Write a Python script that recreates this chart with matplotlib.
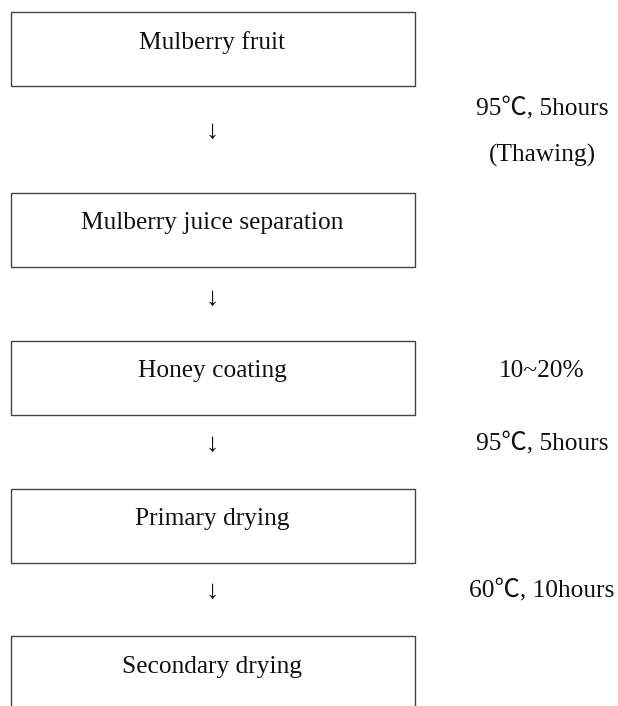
import matplotlib.pyplot as plt
from matplotlib.patches import Rectangle

# DATA
steps = ['Mulberry fruit', 'Mulberry juice separation', 'Honey coating',
         'Primary drying', 'Secondary drying']
notes = ['95\u2103, 5hours', '(Thawing)', '10~20%', '95\u2103, 5hours', '60\u2103, 10hours']

# layout (pixels)
W, H = 618, 706
box_top = [11, 192, 340, 488, 635]
box_x, box_w, box_h = 10.5, 404, 74
arrow_y = [132, 299, 445, 592]
note_base = [115, 162, 377, 450, 597]
fonts = ['Liberation Serif', 'Noto Sans CJK JP', 'DejaVu Sans']

fig = plt.figure(figsize=(W / 100, H / 100), dpi=100)
ax = fig.add_axes([0, 0, 1, 1])
ax.set_xlim(0, W)
ax.set_ylim(H, 0)
ax.axis('off')

for s, y in zip(steps, box_top):
    ax.add_patch(Rectangle((box_x, y + 0.5), box_w, box_h, fill=False,
                           edgecolor='#444444', lw=1.0))
    ax.text(box_x + box_w / 2, y + 37.5, s, ha='center', va='baseline',
            fontsize=18.3, family=fonts, color='#111111')

for ay in arrow_y:
    ax.text(212, ay, '\u2193', ha='center', va='center',
            fontsize=19, family=fonts, color='#111111')

# side notes
for t, ny in zip(notes, note_base):
    ax.text(542, ny, t, ha='center', va='baseline', fontsize=18.3,
            family=fonts, color='#111111')

fig.savefig('out.png', dpi=100)
